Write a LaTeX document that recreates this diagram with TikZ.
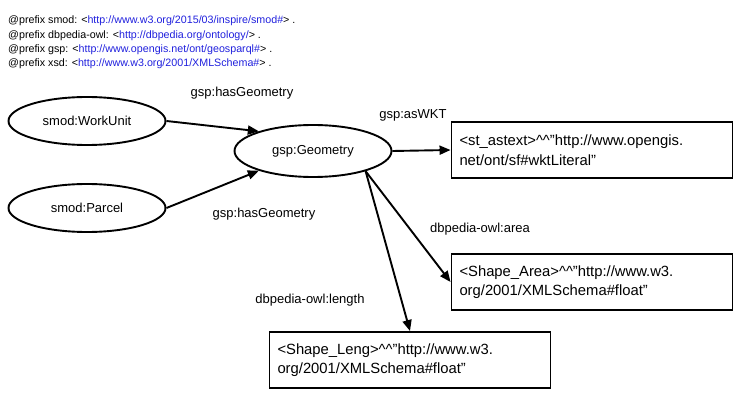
\documentclass[tikz,border=0pt]{standalone}
\usepackage{fontspec}
\setmainfont{Liberation Sans}
\usepackage{xcolor}
\definecolor{ink}{HTML}{000000}
\definecolor{linkblue}{HTML}{2020DD}
\usepackage{tikz}
\usetikzlibrary{arrows.meta,shapes.geometric}
\tikzset{
    resource/.style={ellipse, draw=ink, line width=1.9pt, minimum width=157pt, minimum height=48pt, inner sep=0pt, font=\fontsize{13}{15}\selectfont},
    literal/.style={draw=ink, line width=1.9pt, minimum width=281pt, minimum height=56pt, text width=265pt, align=left, inner sep=0pt, font=\fontsize{14.8}{19.5}\selectfont},
    edgelabel/.style={font=\fontsize{13}{15}\selectfont, inner sep=0pt},
    prefixes/.style={font=\fontsize{10.7}{14.3}\selectfont, align=left, inner sep=0pt, anchor=north west},
    arrow/.style={-{Triangle[length=11pt, width=9pt]}, line width=1.9pt, ink}
}
\newcommand{\uri}[1]{\textcolor{linkblue}{#1}}
\newcommand{\hats}{\textasciicircum\textasciicircum}

\begin{document}
\begin{tikzpicture}[x=1pt, y=-1pt]
  \useasboundingbox (0,0) rectangle (738,403);

  % Namespace prefixes
  \node[prefixes] (prefix_list) at (8,16) {
    @prefix smod: <\uri{http://www.w3.org/2015/03/inspire/smod\#}> .\\
    @prefix dbpedia-owl: <\uri{http://dbpedia.org/ontology/}> .\\
    @prefix gsp: <\uri{http://www.opengis.net/ont/geosparql\#}> .\\
    @prefix xsd: <\uri{http://www.w3.org/2001/XMLSchema\#}> .
  };

  % Resources
  \node[resource] (workunit) at (87,121) {smod:WorkUnit};
  \node[resource] (parcel) at (87,208) {smod:Parcel};
  \node[resource, minimum height=52pt] (geometry) at (313,151) {gsp:Geometry};

  % Literals
  \node[literal] (wkt) at (592,150) {
    <st\_astext>\hats"http://www.opengis.\\
    net/ont/sf\#wktLiteral”
  };
  \node[literal] (area) at (592,282) {
    <Shape\_Area>\hats"http://www.w3.\\
    org/2001/XMLSchema\#float”
  };
  \node[literal] (length) at (410,360) {
    <Shape\_Leng>\hats"http://www.w3.\\
    org/2001/XMLSchema\#float”
  };

  % Property labels
  \node[edgelabel] (lbl_hasgeom_wu) at (242,93) {gsp:hasGeometry};
  \node[edgelabel] (lbl_hasgeom_pa) at (264,214) {gsp:hasGeometry};
  \node[edgelabel] (lbl_aswkt) at (413,115) {gsp:asWKT};
  \node[edgelabel] (lbl_area) at (480,229) {dbpedia-owl:area};
  \node[edgelabel] (lbl_length) at (310,300) {dbpedia-owl:length};

  % Connecting arrows
  \draw[arrow] (workunit.east) -- (geometry.160);
  \draw[arrow] (parcel.east) -- (geometry.200);
  \draw[arrow] (geometry.east) -- (wkt.west);
  \draw[arrow] (geometry.-21) -- (area.west);
  \draw[arrow] (geometry.-21) -- (length.north);
\end{tikzpicture}
\end{document}
